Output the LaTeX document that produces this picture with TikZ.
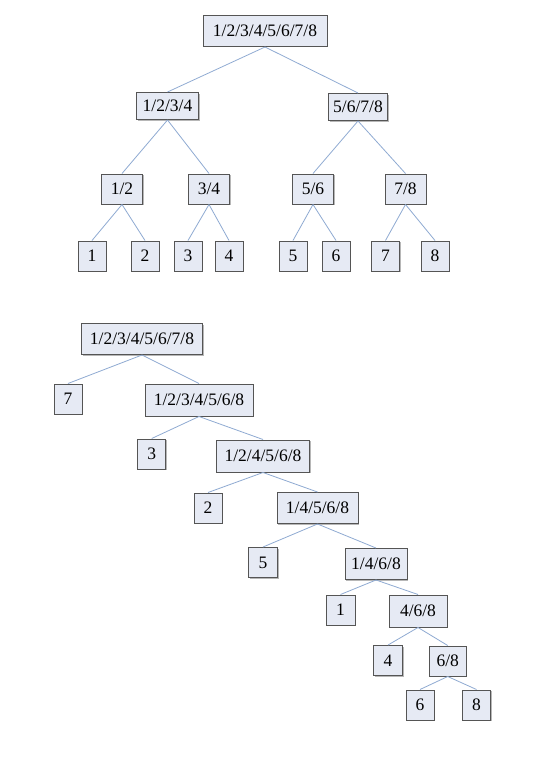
\documentclass[tikz,border=0pt]{standalone}
\usepackage{fontspec}
\setmainfont{Liberation Serif}
\usetikzlibrary{shadows}
\definecolor{boxfill}{HTML}{E6EAF4}
\definecolor{boxdraw}{HTML}{555555}
\definecolor{linkcol}{HTML}{8FAAD2}
\tikzset{
  tbox/.style={draw=boxdraw, line width=1pt, fill=boxfill, inner sep=0pt,
    minimum height=30pt, font=\fontsize{17.5}{20}\selectfont,
    drop shadow={shadow xshift=1pt, shadow yshift=-1pt, fill=gray!70, opacity=0.8}},
  link/.style={draw=linkcol, line width=0.8pt}
}
\begin{document}
\begin{tikzpicture}[x=1pt,y=-1pt]
\path[use as bounding box, fill=white] (0,0) rectangle (550,768);
% top tree
\node[tbox, minimum width=124pt, minimum height=31pt] (r) at (265,31) {1/2/3/4/5/6/7/8};
\node[tbox, minimum width=62pt, minimum height=27pt] (a) at (167.5,106) {1/2/3/4};
\node[tbox, minimum width=59pt, minimum height=27pt] (b) at (358,107) {5/6/7/8};
\node[tbox, minimum width=41pt] (a1) at (122,189) {1/2};
\node[tbox, minimum width=41pt] (a2) at (209,189) {3/4};
\node[tbox, minimum width=41pt] (b1) at (313,189) {5/6};
\node[tbox, minimum width=41pt] (b2) at (405.5,189) {7/8};
\node[tbox, minimum width=28pt] (l1) at (92,256) {1};
\node[tbox, minimum width=28pt] (l2) at (145,256) {2};
\node[tbox, minimum width=28pt] (l3) at (188,256) {3};
\node[tbox, minimum width=28pt] (l4) at (229,256) {4};
\node[tbox, minimum width=28pt] (l5) at (293,256) {5};
\node[tbox, minimum width=28pt] (l6) at (336,256) {6};
\node[tbox, minimum width=28pt] (l7) at (385.5,256) {7};
\node[tbox, minimum width=28pt] (l8) at (435,256) {8};
\foreach \p/\c in {r/a, r/b, a/a1, a/a2, b/b1, b/b2, a1/l1, a1/l2, a2/l3, a2/l4, b1/l5, b1/l6, b2/l7, b2/l8}
  \draw[link] (\p.south) -- (\c.north);
% bottom tree
\node[tbox, minimum width=121pt, minimum height=31pt] (s0) at (142,339) {1/2/3/4/5/6/7/8};
\node[tbox, minimum width=28pt] (k7) at (68,399) {7};
\node[tbox, minimum width=108pt, minimum height=32pt] (s1) at (199,400) {1/2/3/4/5/6/8};
\node[tbox, minimum width=28pt] (k3) at (151.7,454) {3};
\node[tbox, minimum width=93pt, minimum height=32pt] (s2) at (263,456) {1/2/4/5/6/8};
\node[tbox, minimum width=28pt] (k2) at (208,508) {2};
\node[tbox, minimum width=81pt, minimum height=31pt] (s3) at (317.5,508) {1/4/5/6/8};
\node[tbox, minimum width=29pt] (k5) at (263,562.5) {5};
\node[tbox, minimum width=62pt, minimum height=31pt] (s4) at (376,564) {1/4/6/8};
\node[tbox, minimum width=29pt] (k1) at (340.5,610) {1};
\node[tbox, minimum width=58pt, minimum height=32pt] (s5) at (418,611) {4/6/8};
\node[tbox, minimum width=29pt] (k4) at (388,660.5) {4};
\node[tbox, minimum width=37pt] (s6) at (447.7,661) {6/8};
\node[tbox, minimum width=28pt] (k6) at (420,705) {6};
\node[tbox, minimum width=28pt] (k8) at (476.5,705) {8};
\foreach \p/\c in {s0/k7, s0/s1, s1/k3, s1/s2, s2/k2, s2/s3, s3/k5, s3/s4, s4/k1, s4/s5, s5/k4, s5/s6, s6/k6, s6/k8}
  \draw[link] (\p.south) -- (\c.north);
\end{tikzpicture}
\end{document}
